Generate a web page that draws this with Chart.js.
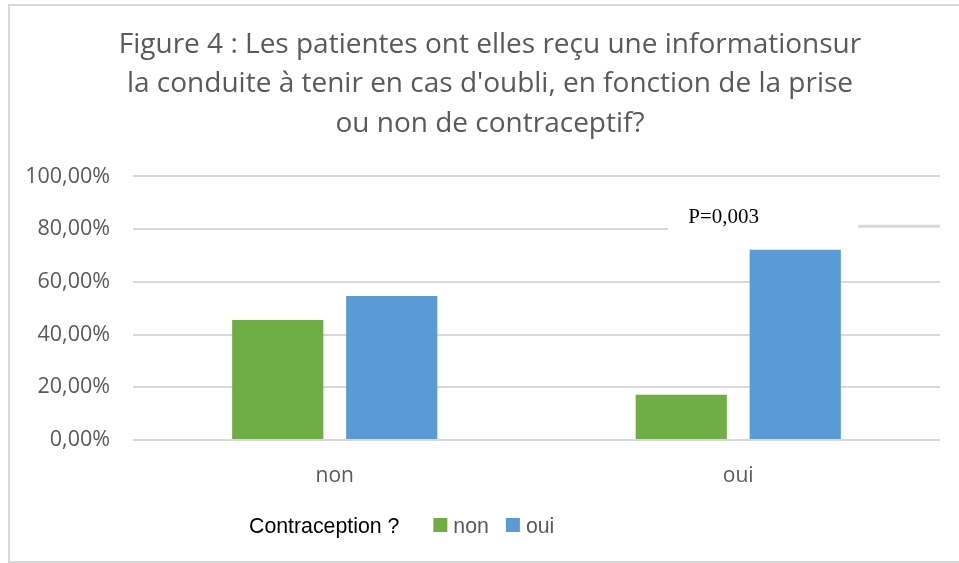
<!DOCTYPE html>
<html lang="fr">
<head>
<meta charset="utf-8">
<script src="https://cdn.jsdelivr.net/npm/chart.js@4.4.0/dist/chart.umd.min.js"></script>
<style>
  html, body { margin: 0; padding: 0; background: #fff; }
  canvas { display: block; }
</style>
</head>
<body>
<canvas id="chart" width="959" height="563"></canvas>
<script>
// Données
const categories = ["non", "oui"];
const seriesLabels = ["non", "oui"];
const nonValues = [45.5, 17.2];
const ouiValues = [54.6, 72.2];
const titleLines = [
  "Figure 4 : Les patientes ont elles reçu une informationsur",
  "la conduite à tenir en cas d'oubli, en fonction de la prise",
  "ou non de contraceptif?",
];
const legendTitle = "Contraception ?";
const pValueText = "P=0,003";

const C = {
  green: "#70AD47",
  blue: "#5B9BD5",
  grid: "#d9d9d9",
  text: "#595959",
};
const SANS = '"Open Sans", "Noto Sans", sans-serif';
const fmtPct = (v) => v.toFixed(2).replace(".", ",") + "%";

// cadre gris autour du graphique
const framePlugin = {
  id: "frame",
  beforeDraw(chart) {
    const ctx = chart.ctx;
    ctx.save();
    ctx.strokeStyle = C.grid;
    ctx.lineWidth = 2;
    ctx.strokeRect(9, 5, chart.width + 10, chart.height - 6);
    ctx.restore();
  },
};

// le titre Excel est centré sur le cadre, pas sur le canvas : léger décalage
const titleShiftPlugin = {
  id: "titleShift",
  afterLayout(chart) {
    const t = chart.titleBlock;
    if (t) {
      t.left += 20;
      t.right += 20;
    }
  },
};

// zone de texte "P=0,003" posée sur la grille
const pValuePlugin = {
  id: "pvalue",
  afterDraw(chart) {
    const { ctx, chartArea, scales } = chart;
    const cx = scales.x.getPixelForValue(1);
    const y80 = scales.y.getPixelForValue(80);
    const left = cx - 70;
    const right = cx + 120;
    ctx.save();
    ctx.fillStyle = "#fff";
    ctx.fillRect(left, y80 - 16, chartArea.right - left + 2, 24);
    ctx.strokeStyle = C.grid;
    ctx.lineWidth = 3;
    ctx.beginPath();
    ctx.moveTo(right, y80 - 3);
    ctx.lineTo(chartArea.right, y80 - 3);
    ctx.stroke();
    ctx.fillStyle = "#000";
    ctx.font = '21px "Liberation Serif", "Times New Roman", serif';
    ctx.textBaseline = "alphabetic";
    ctx.fillText(pValueText, left + 20, y80 - 6);
    ctx.restore();
  },
};

// légende maison : titre à gauche puis les séries
const legendPlugin = {
  id: "customLegend",
  afterDraw(chart) {
    const ctx = chart.ctx;
    const base = 533;
    let x = 249;
    ctx.save();
    ctx.font = '21.3px "Liberation Sans", Arial, sans-serif';
    ctx.textBaseline = "alphabetic";
    ctx.fillStyle = "#000";
    ctx.fillText(legendTitle, x, base);
    x += ctx.measureText(legendTitle).width + 34;
    chart.data.datasets.forEach((ds) => {
      ctx.fillStyle = ds.backgroundColor;
      ctx.fillRect(x, base - 15, 14, 14);
      x += 20;
      ctx.fillStyle = C.text;
      ctx.fillText(ds.label, x, base);
      x += ctx.measureText(ds.label).width + 17;
    });
    ctx.restore();
  },
};

new Chart(document.getElementById("chart").getContext("2d"), {
  type: "bar",
  data: {
    labels: categories,
    datasets: [
      { label: seriesLabels[0], data: nonValues, backgroundColor: C.green },
      { label: seriesLabels[1], data: ouiValues, backgroundColor: C.blue },
    ],
  },
  options: {
    responsive: false,
    animation: false,
    devicePixelRatio: 1,
    layout: { padding: { left: 0, right: 19, top: 0, bottom: 0 } },
    datasets: {
      bar: { barPercentage: 0.8, categoryPercentage: 0.565 },
    },
    scales: {
      x: {
        grid: { display: false },
        border: { display: false },
        ticks: { color: C.text, font: { family: SANS, size: 21 }, padding: 15 },
        afterFit: (s) => { s.height = 123; },
      },
      y: {
        min: 0,
        max: 100,
        grid: { color: C.grid, lineWidth: 2, drawTicks: false },
        border: { display: false },
        ticks: {
          stepSize: 20,
          color: C.text,
          padding: 23,
          font: { family: SANS, size: 21.5 },
          callback: (v) => fmtPct(v),
        },
        afterFit: (s) => { s.width = 133; },
      },
    },
    plugins: {
      legend: { display: false },
      tooltip: { enabled: false },
      title: {
        display: true,
        text: titleLines,
        color: C.text,
        font: { family: SANS, size: 28, weight: "normal", lineHeight: 1.41 },
        padding: { top: 25, bottom: 33 },
      },
    },
  },
  plugins: [framePlugin, titleShiftPlugin, pValuePlugin, legendPlugin],
});
</script>
</body>
</html>
